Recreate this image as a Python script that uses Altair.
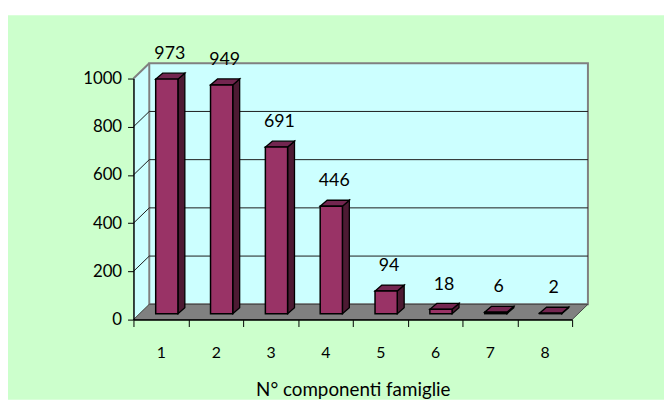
import json
import altair as alt
import pandas as pd

# ---- data ----
categories = ["1", "2", "3", "4", "5", "6", "7", "8"]
values = [973, 949, 691, 446, 94, 18, 6, 2]
y_ticks = [0, 200, 400, 600, 800, 1000]
axis_title = "N° componenti famiglie"

# ---- styling / geometry constants ----
W, H = 444, 244
N = len(categories)
YMAX = y_ticks[-1]
PXX = W / N          # px per category
PXY = H / YMAX       # px per value unit
FONT = "Lato"
PAD_L, PAD_T, PAD_R, PAD_B = 127, 69, 93, 81

BG = "#CCFFCC"
WALL = "#CCFFFF"
FLOOR = "#808080"
FRONT = "#993366"
TOP = "#732650"
SIDE = "#4D1A33"


def ux(px):
    return px / PXX


def uy(px):
    return px / PXY


WDX, WDY = ux(16), uy(15.5)      # wall depth
BW = ux(22.5)                    # bar width
BSX, BSY = ux(6), uy(6)          # bar placement inside depth
BDX, BDY = ux(7), uy(6)          # bar depth

X = alt.Scale(domain=[0, N], nice=False, zero=False)
Y = alt.Scale(domain=[0, YMAX], nice=False, zero=False)

AX = alt.Axis(
    values=list(range(N + 1)),
    labelExpr=f"{json.dumps(categories)}[datum.value] || ''",
    labelOffset=PXX / 2, labelFlush=False, labelOverlap=False,
    tickSize=7, tickColor="black", domainColor="black", domainWidth=1.5,
    labelFontSize=16, labelFont=FONT, labelColor="black", labelPadding=18,
    grid=False, title=axis_title, titleFont=FONT, titleFontSize=19,
    titleFontWeight="normal", titleColor="black", titlePadding=21, zindex=1)
AY = alt.Axis(
    values=y_ticks, format="d", tickSize=6, tickColor="black", domainColor="black",
    domainWidth=1.5, labelFontSize=17, labelFont=FONT, labelColor="black",
    labelPadding=6, labelFlush=False, labelOverlap=False, grid=False,
    title="", zindex=1)


def xq(f):
    return alt.X(f, scale=X, axis=AX)


def yq(f, **kw):
    return alt.Y(f, scale=Y, axis=AY, **kw)


# ---- background panel ----
panel = alt.Chart(pd.DataFrame({"a": [0]})).mark_rect(color=BG).encode(
    x=alt.value(-PAD_L), x2=alt.value(W + PAD_R),
    y=alt.value(-PAD_T + 5), y2=alt.value(H + PAD_B)
)

# ---- walls & floor ----
side_df = pd.DataFrame({"x": [0, WDX], "lo": [0, WDY], "hi": [YMAX, YMAX + WDY]})
side_wall = alt.Chart(side_df).mark_area(color=WALL, orient="vertical").encode(
    x=xq("x:Q"), y=yq("lo:Q"), y2="hi:Q",
)

back_df = pd.DataFrame({"x": [WDX], "x2": [N + WDX], "y": [WDY], "y2": [YMAX + WDY]})
back_wall = alt.Chart(back_df).mark_rect(fill=WALL, stroke=FLOOR, strokeWidth=2).encode(
    x=xq("x:Q"), x2="x2:Q", y=yq("y:Q"), y2="y2:Q",
)

grid_vals = y_ticks[1:-1]
grid_back_df = pd.DataFrame({"x": [WDX] * len(grid_vals), "x2": [N + WDX] * len(grid_vals),
                             "y": [v + WDY for v in grid_vals]})
grid_back = alt.Chart(grid_back_df).mark_rule(color="#1a1a1a", strokeWidth=1).encode(
    x=xq("x:Q"), x2="x2:Q", y=yq("y:Q"),
)

diag_df = pd.DataFrame({"x": [0] * len(grid_vals), "x2": [WDX] * len(grid_vals),
                        "y": grid_vals, "y2": [v + WDY for v in grid_vals]})
grid_side = alt.Chart(diag_df).mark_rule(color="#1a1a1a", strokeWidth=1).encode(
    x=xq("x:Q"), x2="x2:Q", y=yq("y:Q"), y2="y2:Q",
)

top_edge_df = pd.DataFrame({"x": [0], "x2": [WDX], "y": [YMAX], "y2": [YMAX + WDY]})
top_edge = alt.Chart(top_edge_df).mark_rule(color=FLOOR, strokeWidth=2).encode(
    x=xq("x:Q"), x2="x2:Q", y=yq("y:Q"), y2="y2:Q",
)

floor_df = pd.DataFrame({"y": [0, WDY], "xl": [0, WDX], "xr": [N, N + WDX]})
floor = alt.Chart(floor_df).mark_area(fill=FLOOR, stroke="#444444", strokeWidth=1,
                                      orient="horizontal").encode(
    y=yq("y:Q"), x=xq("xl:Q"), x2="xr:Q",
)

# ---- 3D bars ----
rows_front, rows_side, rows_top = [], [], []
for i, (c, v) in enumerate(zip(categories, values)):
    xl = i + 0.5 - BW / 2 + BSX
    xr = i + 0.5 + BW / 2 + BSX
    rows_front.append({"cat": c, "value": v, "x": xl, "x2": xr, "y": BSY, "y2": v + BSY})
    rows_side.append({"cat": c, "x": xr, "lo": BSY, "hi": v + BSY})
    rows_side.append({"cat": c, "x": xr + BDX, "lo": BSY + BDY, "hi": v + BSY + BDY})
    rows_top.append({"cat": c, "y": v + BSY, "xl": xl, "xr": xr})
    rows_top.append({"cat": c, "y": v + BSY + BDY, "xl": xl + BDX, "xr": xr + BDX})

front_df = pd.DataFrame(rows_front)
side_bar_df = pd.DataFrame(rows_side)
top_bar_df = pd.DataFrame(rows_top)

bar_side = alt.Chart(side_bar_df).mark_area(fill=SIDE, stroke="black", strokeWidth=1.3,
                                            orient="vertical").encode(
    x=xq("x:Q"), y=yq("lo:Q", stack=None), y2="hi:Q", detail="cat:N",
)
bar_top = alt.Chart(top_bar_df).mark_area(fill=TOP, stroke="black", strokeWidth=1.3,
                                          orient="horizontal").encode(
    y=yq("y:Q"), x=alt.X("xl:Q", scale=X, axis=AX, stack=None), x2="xr:Q",
    detail="cat:N",
)
bar_front = alt.Chart(front_df).mark_rect(fill=FRONT, stroke="black", strokeWidth=1.5).encode(
    x=xq("x:Q"), x2="x2:Q", y=yq("y:Q"), y2="y2:Q",
)
labels = alt.Chart(front_df).transform_calculate(
    xc="(datum.x + datum.x2) / 2"
).mark_text(font=FONT, fontSize=18, color="black", baseline="middle", dx=3, dy=-25).encode(
    x=xq("xc:Q"), y=yq("y2:Q"), text="value:Q",
)

chart = alt.layer(
    panel, side_wall, back_wall, grid_back, grid_side, top_edge, floor,
    bar_side, bar_top, bar_front, labels
).properties(
    width=W, height=H,
    autosize=alt.AutoSizeParams(type="none"),
    padding={"left": PAD_L, "top": PAD_T, "right": PAD_R, "bottom": PAD_B},
    background="white",
).configure_view(strokeWidth=0)

chart.save("out.html", embed_options={"renderer": "svg", "actions": False})
